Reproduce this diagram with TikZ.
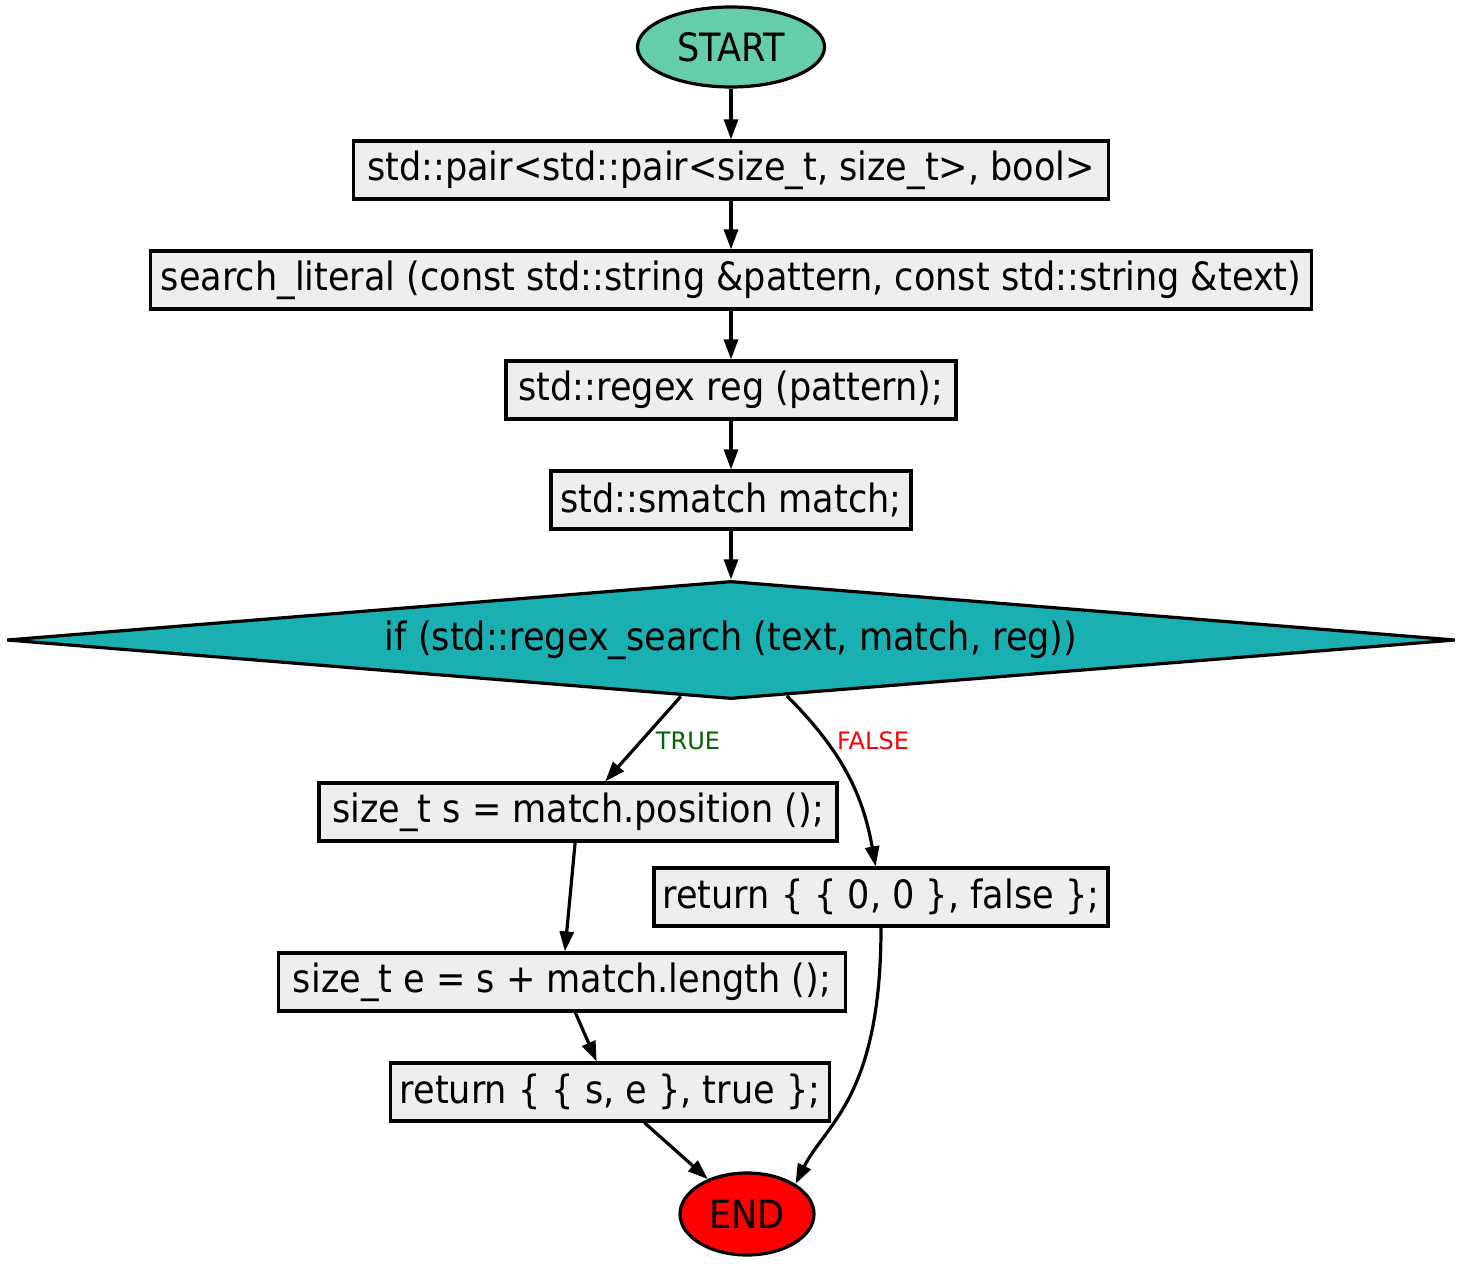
\documentclass[tikz,border=0pt]{standalone}
\usepackage{fontspec}
\setmainfont{DejaVu Sans Condensed}
\newfontfamily\lblfont{DejaVu Sans}
\usetikzlibrary{shapes.geometric,arrows.meta}
\definecolor{startgreen}{HTML}{66CDAA}
\definecolor{condteal}{HTML}{1AAFB0}
\definecolor{stmtgray}{HTML}{EEEEEE}
\definecolor{truegreen}{HTML}{006400}
\begin{document}
\begin{tikzpicture}[x=1pt,y=-1pt,
    stmt/.style={draw,line width=3.2pt,fill=stmtgray,minimum height=58pt,inner sep=6pt,
      font=\fontsize{39}{42}\selectfont},
    term/.style={ellipse,draw,line width=3.2pt,inner sep=0pt,font=\fontsize{39}{42}\selectfont},
    cond/.style={diamond,draw,line width=3.2pt,fill=condteal,aspect=12,inner sep=0pt,
      minimum width=1449pt,minimum height=118pt,font=\fontsize{39}{42}\selectfont},
    flow/.style={-{Triangle[length=20pt,width=14pt]},line width=3.2pt},
    lbl/.style={inner sep=0pt,font=\lblfont\fontsize{24}{26}\selectfont}]
  \useasboundingbox (0,0) rectangle (1463,1263);
  \node[term,fill=startgreen,minimum width=187pt,minimum height=80pt] (start) at (731,47) {START};
  \node[stmt,minimum width=755pt] (pair) at (731,170) {std::pair<std::pair<size\_t, size\_t>, bool>};
  \node[stmt,minimum width=1161pt] (func) at (731,280) {search\_literal (const std::string \&pattern, const std::string \&text)};
  \node[stmt,minimum width=450pt] (reg) at (731,390) {std::regex reg (pattern);};
  \node[stmt,minimum width=360pt] (match) at (731,500) {std::smatch match;};
  \node[cond] (test) at (731,640) {if (std::regex\_search (text, match, reg))};
  \node[stmt,minimum width=518pt] (spos) at (578,812) {size\_t s = match.position ();};
  \node[stmt,minimum width=454pt] (retf) at (881,897) {return \{ \{ 0, 0 \}, false \};};
  \node[stmt,minimum width=567pt] (epos) at (562,982) {size\_t e = s + match.length ();};
  \node[stmt,minimum width=439pt] (rett) at (610,1092) {return \{ \{ s, e \}, true \};};
  \node[term,fill=red,minimum width=134pt,minimum height=82pt] (end) at (747,1214) {END};
  \node[lbl,text=truegreen] (tlbl) at (688,741) {TRUE};
  \node[lbl,text=red] (flbl) at (873,741) {FALSE};
  \begin{scope}[flow]
    \draw (start) -- (pair);
    \draw (pair) -- (func);
    \draw (func) -- (reg);
    \draw (reg) -- (match);
    \draw (match) -- (test);
    \draw (test) -- (spos);
    \draw (test) to[out=-45,in=100] (retf);
    \draw (spos) -- (epos);
    \draw (epos) -- (rett);
    \draw (rett) -- (end);
    \draw (retf.south) .. controls +(0pt,-170pt) and +(30pt,60pt) .. (end.north east);
  \end{scope}
\end{tikzpicture}
\end{document}
